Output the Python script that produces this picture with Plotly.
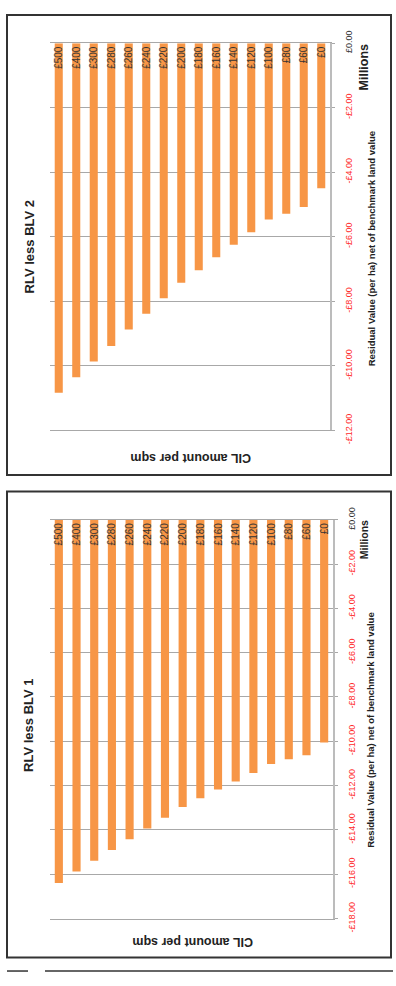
import plotly.graph_objects as go

categories = ["£0", "£60", "£80", "£100", "£120", "£140", "£160", "£180",
              "£200", "£220", "£240", "£260", "£280", "£300", "£400", "£500"]

# values in £ millions
blv2_values = [-4.50, -5.08, -5.29, -5.47, -5.86, -6.25, -6.64, -7.04,
               -7.43, -7.91, -8.39, -8.88, -9.39, -9.87, -10.36, -10.84]
blv1_values = [-10.06, -10.63, -10.81, -11.03, -11.43, -11.82, -12.18, -12.57,
               -12.97, -13.45, -13.94, -14.42, -14.91, -15.39, -15.88, -16.40]

blv2_ticks = [0, -2, -4, -6, -8, -10, -12]
blv2_ticktext = ["£0.00", "-£2.00", "-£4.00", "-£6.00", "-£8.00", "-£10.00", "-£12.00"]
blv1_ticks = [0, -2, -4, -6, -8, -10, -12, -14, -16, -18]
blv1_ticktext = ["£0.00", "-£2.00", "-£4.00", "-£6.00", "-£8.00", "-£10.00",
                 "-£12.00", "-£14.00", "-£16.00", "-£18.00"]

titles = ["RLV less BLV 2", "RLV less BLV 1"]
value_axis_title = "Residual Value (per ha) net of benchmark land value"
cat_axis_title = "CIL amount per sqm"
units_label = "Millions"

W, H = 396, 986
BAR = "#F79646"
GRID = "#a8a8a8"
FONT = "Liberation Sans, Arial, sans-serif"


def px(x):
    return x / W


def py(y):
    return 1 - y / H


def colour_ticks(texts):
    out = []
    for t in texts:
        if t.startswith("-"):
            out.append('<span style="color:#ff2b2b">' + t + '</span>')
        else:
            out.append('<span style="color:#333333">' + t + '</span>')
    return out


fig = go.Figure()

panels = [
    dict(vals=blv2_values, ticks=blv2_ticks, ttext=blv2_ticktext, rng=[-12, 0],
         xd=[px(50), px(330)], yd=[py(429), py(31)], xa="x", ya="y",
         frame=(2, 475), title_y=241, mill_y=56, mill_size=12.5, res_y=243, cil_y=457,
         cil_x=191),
    dict(vals=blv1_values, ticks=blv1_ticks, ttext=blv1_ticktext, rng=[-18, 0],
         xd=[px(50), px(333)], yd=[py(931), py(521)], xa="x2", ya="y2",
         frame=(492, 971), title_y=733, mill_y=542, mill_size=10.5, res_y=738, cil_y=955,
         cil_x=193),
]

layout = dict(
    width=W, height=H, margin=dict(l=0, r=0, t=0, b=0),
    paper_bgcolor="white", plot_bgcolor="white", showlegend=False,
    font=dict(family=FONT, color="#222222"),
    bargap=0.54,
)

annotations = []
shapes = []

for i, p in enumerate(panels):
    fig.add_trace(go.Bar(
        x=categories, y=p["vals"], marker=dict(color=BAR, line=dict(width=0)),
        text=categories, textposition="inside", insidetextanchor="start",
        textangle=-90, constraintext="none",
        textfont=dict(size=10, color="#333333", family=FONT),
        xaxis=p["xa"], yaxis=p["ya"], hoverinfo="skip",
    ))
    xkey = "xaxis" if i == 0 else "xaxis2"
    ykey = "yaxis" if i == 0 else "yaxis2"
    layout[xkey] = dict(domain=p["xd"], anchor=p["ya"], autorange="reversed",
                        showticklabels=False, ticks="", showgrid=False,
                        showline=True, mirror=True, linecolor=GRID, linewidth=1,
                        zeroline=False, fixedrange=True)
    layout[ykey] = dict(domain=p["yd"], anchor=p["xa"], side="right",
                        range=p["rng"], tickvals=p["ticks"],
                        ticktext=colour_ticks(p["ttext"]), tickangle=-90,
                        tickfont=dict(size=9, family=FONT),
                        ticks="outside", ticklen=3, tickcolor=GRID,
                        showgrid=True, gridcolor=GRID, gridwidth=1,
                        showline=True, linecolor="#bcbcbc", linewidth=2,
                        zeroline=False, ticklabelstandoff=6, fixedrange=True)

    # frame
    shapes.append(dict(type="rect", xref="paper", yref="paper",
                       x0=px(7), x1=px(391), y0=py(p["frame"][1]), y1=py(p["frame"][0]),
                       line=dict(color="#333333", width=2), fillcolor="rgba(0,0,0,0)"))

    annotations.append(dict(text="<b>" + titles[i] + "</b>", xref="paper", yref="paper",
                            x=px(29), y=py(p["title_y"]), textangle=-90, showarrow=False,
                            xanchor="center", yanchor="middle",
                            font=dict(size=13, color="#222222", family=FONT)))
    annotations.append(dict(text="<b>" + units_label + "</b>", xref="paper", yref="paper",
                            x=px(364), y=py(p["mill_y"]), textangle=-90, showarrow=False,
                            xanchor="center", yanchor="middle",
                            font=dict(size=p["mill_size"], color="#222222", family=FONT)))
    annotations.append(dict(text="<b>" + value_axis_title + "</b>", xref="paper", yref="paper",
                            x=px(371), y=py(p["res_y"]), textangle=-90, showarrow=False,
                            xanchor="center", yanchor="middle",
                            font=dict(size=9.5, color="#222222", family=FONT)))
    annotations.append(dict(text="<b>" + cat_axis_title + "</b>", xref="paper", yref="paper",
                            x=px(p["cil_x"]), y=py(p["cil_y"]), textangle=180, showarrow=False,
                            xanchor="center", yanchor="middle",
                            font=dict(size=12.5, color="#222222", family=FONT)))

# page rule at the bottom
shapes.append(dict(type="line", xref="paper", yref="paper", x0=px(7), x1=px(28),
                   y0=py(985), y1=py(985), line=dict(color="#333333", width=1.5)))
shapes.append(dict(type="line", xref="paper", yref="paper", x0=px(45), x1=px(393),
                   y0=py(985), y1=py(985), line=dict(color="#333333", width=1.5)))

layout["annotations"] = annotations
layout["shapes"] = shapes
fig.update_layout(**layout)

fig.write_html("out.html", config={"displayModeBar": False},
               post_script="document.body.style.margin='0';document.body.style.overflow='hidden';")
